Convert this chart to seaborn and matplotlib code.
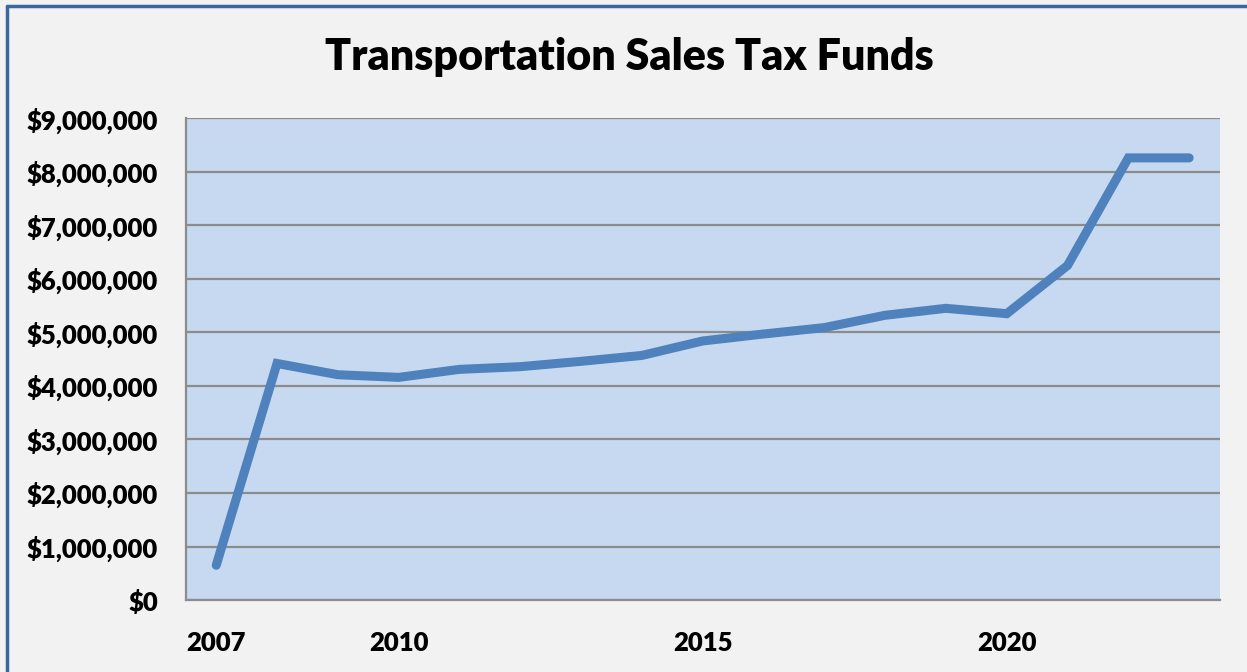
import numpy as np
import pandas as pd
import seaborn as sns
import matplotlib.pyplot as plt
from matplotlib.ticker import FuncFormatter, FixedLocator
from matplotlib.lines import Line2D

years = [str(y) for y in range(2007, 2024)]
funds = [650000, 4420000, 4210000, 4160000, 4310000, 4360000, 4460000, 4570000,
         4840000, 4970000, 5090000, 5320000, 5450000, 5350000, 6250000, 8260000, 8260000]
shown_years = ['2007', '2010', '2015', '2020']

df = pd.DataFrame({'year': years, 'funds': funds})

sns.set_style('white')
plt.rcParams['font.family'] = ['Lato', 'DejaVu Sans']
plt.rcParams['text.color'] = 'black'
plt.rcParams['xtick.labelcolor'] = 'black'
plt.rcParams['ytick.labelcolor'] = 'black'

fig = plt.figure(figsize=(12.47, 6.72), dpi=100, facecolor='#F2F2F2')
ax = fig.add_axes([0.149, 0.107, 0.829, 0.717])
ax.set_facecolor('#C6D9F0')

sns.lineplot(data=df, x='year', y='funds', ax=ax, color='#4F81BD',
             linewidth=6.5, solid_capstyle='round', solid_joinstyle='miter', sort=False)

ax.set_ylim(0, 9000000)
ax.set_xlim(-0.5, len(years) - 0.5)
ax.yaxis.set_major_locator(FixedLocator(np.arange(0, 9000001, 1000000)))
ax.yaxis.set_major_formatter(FuncFormatter(lambda v, p: f'${v:,.0f}'))
ax.grid(axis='y', color='#8C8C8C', linewidth=1.6)
ax.set_axisbelow(True)

# labels only on some years, tick marks between categories
ax.set_xticks([years.index(y) for y in shown_years])
ax.set_xticklabels(shown_years)
ax.set_xticks(np.arange(-0.5, len(years), 1), minor=True)
ax.tick_params(axis='x', which='major', length=0, pad=22, labelsize=18.5)
ax.tick_params(axis='x', which='minor', length=6, width=1.6, color='#8C8C8C')
ax.tick_params(axis='y', length=6, width=1.6, color='#8C8C8C', pad=14, labelsize=18.5)
for lab in ax.get_xticklabels() + ax.get_yticklabels():
    lab.set_fontweight('heavy')

for s in ['top', 'right']:
    ax.spines[s].set_visible(False)
for s in ['left', 'bottom']:
    ax.spines[s].set_color('#8C8C8C')
    ax.spines[s].set_linewidth(1.6)

ax.set_xlabel('')
ax.set_ylabel('')
fig.text(0.505, 0.915, 'Transportation Sales Tax Funds', ha='center', va='center',
         fontsize=31, fontweight='heavy')

# outer chart frame (left and top edges visible)
fig.add_artist(Line2D([7 / 1247, 7 / 1247], [0, 1 - 6 / 672], transform=fig.transFigure,
                      color='#3A679C', linewidth=2.5))
fig.add_artist(Line2D([7 / 1247, 1], [1 - 6 / 672, 1 - 6 / 672], transform=fig.transFigure,
                      color='#3A679C', linewidth=2.5))

fig.savefig('out.png', dpi=100, facecolor=fig.get_facecolor())
